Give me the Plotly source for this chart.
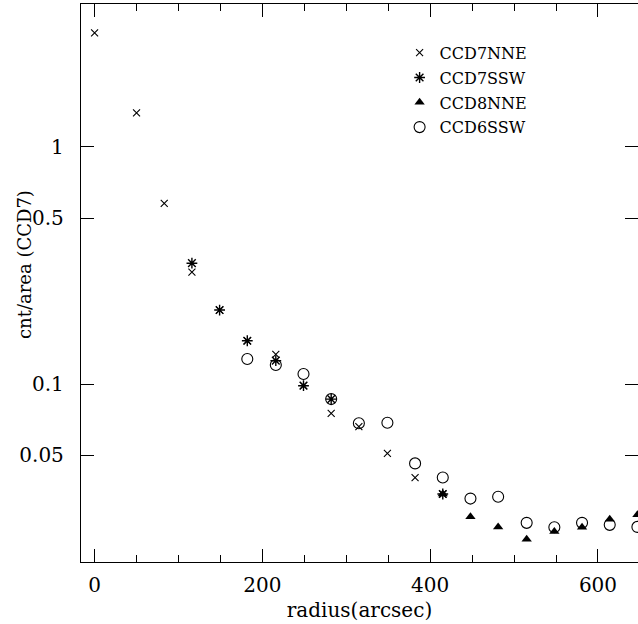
import plotly.graph_objects as go

# Radial surface-brightness profiles per detector region
r_ccd7nne = [0, 50, 83, 116, 149, 182, 216, 249, 282, 315, 349, 382, 415]
v_ccd7nne = [3.02, 1.39, 0.577, 0.296, 0.205, 0.152, 0.1334, 0.0984, 0.0752, 0.0661, 0.0510, 0.0403, 0.0344]

r_ccd7ssw = [116, 149, 182, 216, 249, 282, 415]
v_ccd7ssw = [0.323, 0.205, 0.1522, 0.1254, 0.0984, 0.0864, 0.0344]

r_ccd8nne = [415, 448, 481, 515, 548, 581, 614, 647]
v_ccd8nne = [0.0344, 0.0276, 0.0250, 0.0222, 0.0239, 0.0249, 0.0269, 0.0281]

r_ccd6ssw = [182, 216, 249, 282, 315, 349, 382, 415, 448, 481, 515, 548, 581, 614, 647]
v_ccd6ssw = [0.1274, 0.1202, 0.1102, 0.0864, 0.0683, 0.0687, 0.0463, 0.0404, 0.0329,
             0.0335, 0.0260, 0.0249, 0.0260, 0.0255, 0.0250]

y_tick_vals = [0.05, 0.1, 0.5, 1]
y_tick_text = ["0.05", "0.1", "0.5", "1"]
x_tick_vals = [0, 200, 400, 600]

FONT = "DejaVu Serif"
INK = "black"

fig = go.Figure()

series = [
    ("CCD7NNE", r_ccd7nne, v_ccd7nne, dict(symbol="x-thin-open", size=7, line=dict(color=INK, width=1.1))),
    ("CCD7SSW", r_ccd7ssw, v_ccd7ssw, dict(symbol="asterisk-open", size=9, line=dict(color=INK, width=1.4))),
    ("CCD8NNE", r_ccd8nne, v_ccd8nne, dict(symbol="triangle-up", size=9, color=INK, line=dict(width=0))),
    ("CCD6SSW", r_ccd6ssw, v_ccd6ssw, dict(symbol="circle-open", size=11, color=INK, line=dict(color=INK, width=1.1))),
]
for name, xs, ys, mk in series:
    if "color" not in mk:
        mk["color"] = INK
    fig.add_trace(go.Scatter(x=xs, y=ys, mode="markers", name=name, marker=mk,
                             legendgroup=name))

# Right-hand tick marks without an axis line
fig.add_trace(go.Scatter(x=[None], y=[None], yaxis="y2", showlegend=False, hoverinfo="skip"))

log_range = [-1.750, 0.6014]

fig.update_layout(
    width=638, height=624,
    margin=dict(l=81, r=0, t=4, b=62),
    paper_bgcolor="white", plot_bgcolor="white",
    font=dict(family=FONT, color=INK, size=18),
    showlegend=True,
    legend=dict(
        x=0.572, y=0.943, xanchor="left", yanchor="top",
        bgcolor="rgba(0,0,0,0)", borderwidth=0,
        font=dict(family=FONT, size=16, color=INK),
        itemwidth=30, tracegroupgap=1, traceorder="grouped",
    ),
    xaxis=dict(
        range=[-16.2, 647.7], showgrid=False, zeroline=False,
        showline=True, linecolor=INK, linewidth=1.3, mirror="ticks",
        ticks="inside", ticklen=13, tickwidth=1, tickcolor=INK,
        tickmode="array", tickvals=x_tick_vals,
        minor=dict(tickmode="linear", tick0=0, dtick=50, ticks="inside",
                   ticklen=7, tickwidth=1, tickcolor=INK, showgrid=False),
        tickfont=dict(family=FONT, size=20, color=INK),
        ticklabelstandoff=5,
        title=dict(text="radius(arcsec)", font=dict(family=FONT, size=20, color=INK), standoff=6),
    ),
    yaxis=dict(
        type="log", range=log_range, showgrid=False, zeroline=False,
        showline=True, linecolor=INK, linewidth=1.3, mirror=False,
        ticks="inside", ticklen=13, tickwidth=1, tickcolor=INK,
        tickmode="array", tickvals=y_tick_vals, ticktext=y_tick_text,
        tickfont=dict(family=FONT, size=20, color=INK),
        ticklabelstandoff=12,
    ),
    yaxis2=dict(
        type="log", range=log_range, overlaying="y", side="right",
        showgrid=False, zeroline=False, showline=False,
        ticks="inside", ticklen=13, tickwidth=1, tickcolor=INK,
        tickmode="array", tickvals=y_tick_vals, showticklabels=False,
    ),
    annotations=[
        dict(text="cnt/area (CCD7)", xref="paper", yref="paper",
             x=(24 - 81) / 557, y=(562 - 265) / 558, xanchor="center", yanchor="middle",
             textangle=-90, showarrow=False,
             font=dict(family=FONT, size=18, color=INK)),
    ],
)

fig.write_html("out.html")
